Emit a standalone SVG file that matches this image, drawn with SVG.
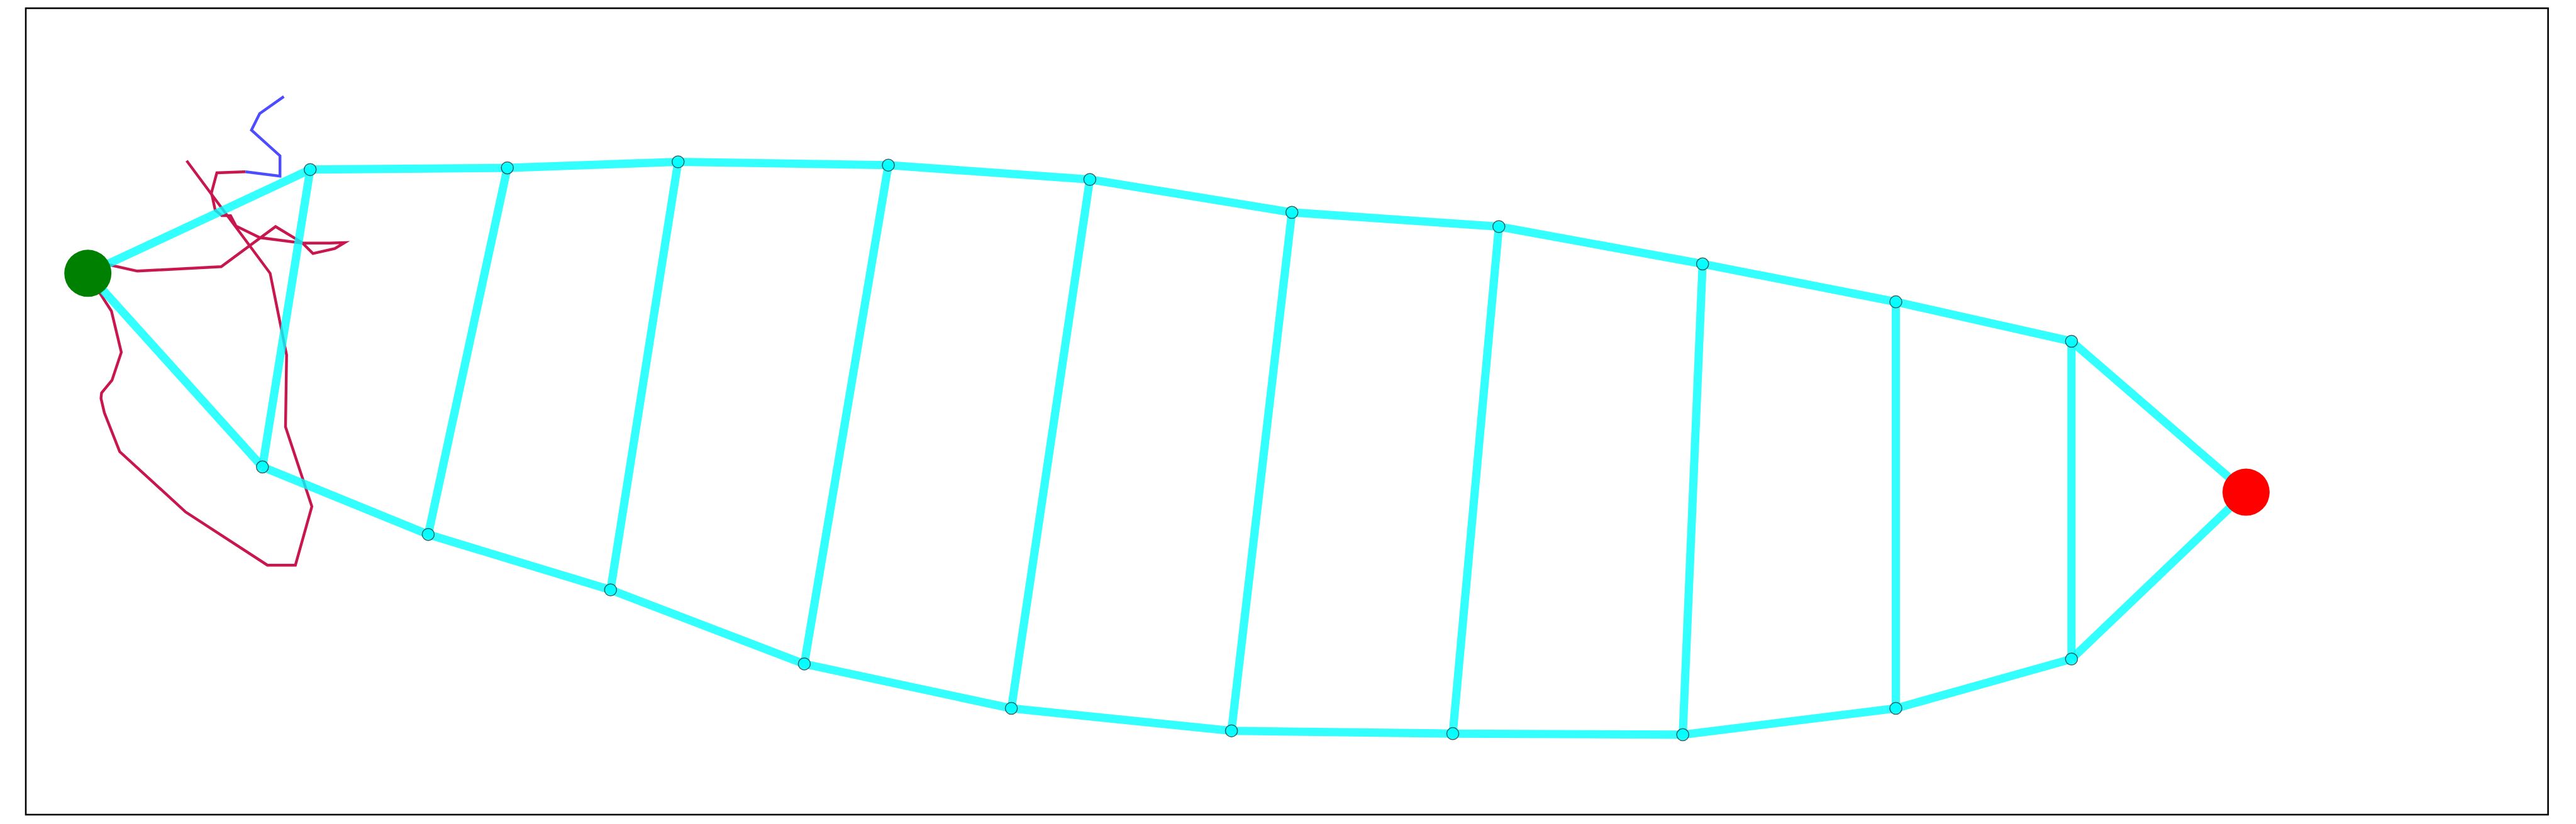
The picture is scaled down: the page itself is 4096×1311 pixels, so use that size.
<svg xmlns="http://www.w3.org/2000/svg" width="4096" height="1311" viewBox="0 0 4096 1311">
<style>
.edge{stroke:#00ffff;stroke-opacity:0.8;stroke-width:13.1;stroke-linecap:butt;fill:none}
.path-red{stroke:#c8174f;stroke-width:4.4;fill:none;stroke-linejoin:miter}
.path-blue{stroke:#4d4dff;stroke-width:4.4;fill:none;stroke-linejoin:miter}
.wp{fill:#00ffff;stroke:#222;stroke-width:1.5;fill-opacity:0.85;stroke-opacity:0.7}
</style>
<rect x="0" y="0" width="4096" height="1311" fill="#ffffff"/>
<rect id="frame" x="41" y="13.1" width="4010.6" height="1283" fill="none" stroke="#000" stroke-width="2.6"/>
<g id="trajectories">
<polyline class="path-red" points="296.8,255.8 429.5,434.8 455.7,564.8 454.0,679.2 495.9,805.8 469.7,899.2 425.2,899.2 295.1,814.5 190.3,718.5 165.9,656.5 160.6,633.8 161.5,625.1 178.1,605.0 192.9,560.5 177.2,495.0 159.8,467.9 139.7,434.8"/>
<polyline class="path-red" points="139.7,430 174.6,421.5 218.3,431.3 351.8,424.3 438.2,360.5 480.2,385.9 497.6,403.3 532.5,395.5 548.2,385.9 523.8,386.7 480.2,386.7 413.0,378.0 375.4,359.7 366.7,343.1 352.7,343.1 342.2,334.4 337.9,314.3 336.1,307.3 344.8,275.0 390.2,273.3"/>
<polyline class="path-blue" points="390.2,273.3 445.2,280.2 445.2,247.9 399.8,206.9 412.9,180.7 451.3,153.6"/>
</g>
<g id="connectors">
<line class="edge" x1="139.7" y1="434.8" x2="493.2" y2="269.8"/>
<line class="edge" x1="139.7" y1="434.8" x2="417.3" y2="742.9"/>
<polyline class="edge" points="493.2,269.8 806.7,267.1 1078.2,257.5 1412.5,262.8 1732.9,285.5 2054.2,337.9 2383.3,360.5 2707.2,419.9 3014.5,480.2 3293.8,543.0"/>
<polyline class="edge" points="417.3,742.9 680.9,850.3 970.8,938.5 1278.9,1056.3 1608.1,1127.0 1958.1,1162.8 2310.0,1167.2 2675.7,1168.9 3014.5,1127.0 3293.8,1048.5"/>
<line class="edge" x1="3293.8" y1="543.0" x2="3571.4" y2="783.1"/>
<line class="edge" x1="3293.8" y1="1048.5" x2="3571.4" y2="783.1"/>
<line class="edge" x1="493.2" y1="269.8" x2="417.3" y2="742.9"/>
<line class="edge" x1="806.7" y1="267.1" x2="680.9" y2="850.3"/>
<line class="edge" x1="1078.2" y1="257.5" x2="970.8" y2="938.5"/>
<line class="edge" x1="1412.5" y1="262.8" x2="1278.9" y2="1056.3"/>
<line class="edge" x1="1732.9" y1="285.5" x2="1608.1" y2="1127.0"/>
<line class="edge" x1="2054.2" y1="337.9" x2="1958.1" y2="1162.8"/>
<line class="edge" x1="2383.3" y1="360.5" x2="2310.0" y2="1167.2"/>
<line class="edge" x1="2707.2" y1="419.9" x2="2675.7" y2="1168.9"/>
<line class="edge" x1="3014.5" y1="480.2" x2="3014.5" y2="1127.0"/>
<line class="edge" x1="3293.8" y1="543.0" x2="3293.8" y2="1048.5"/>
</g>
<g id="T0"><circle class="wp" cx="493.2" cy="269.8" r="9.6"/></g>
<g id="T1"><circle class="wp" cx="806.7" cy="267.1" r="9.6"/></g>
<g id="T2"><circle class="wp" cx="1078.2" cy="257.5" r="9.6"/></g>
<g id="T3"><circle class="wp" cx="1412.5" cy="262.8" r="9.6"/></g>
<g id="T4"><circle class="wp" cx="1732.9" cy="285.5" r="9.6"/></g>
<g id="T5"><circle class="wp" cx="2054.2" cy="337.9" r="9.6"/></g>
<g id="T6"><circle class="wp" cx="2383.3" cy="360.5" r="9.6"/></g>
<g id="T7"><circle class="wp" cx="2707.2" cy="419.9" r="9.6"/></g>
<g id="T8"><circle class="wp" cx="3014.5" cy="480.2" r="9.6"/></g>
<g id="T9"><circle class="wp" cx="3293.8" cy="543.0" r="9.6"/></g>
<g id="B0"><circle class="wp" cx="417.3" cy="742.9" r="9.6"/></g>
<g id="B1"><circle class="wp" cx="680.9" cy="850.3" r="9.6"/></g>
<g id="B2"><circle class="wp" cx="970.8" cy="938.5" r="9.6"/></g>
<g id="B3"><circle class="wp" cx="1278.9" cy="1056.3" r="9.6"/></g>
<g id="B4"><circle class="wp" cx="1608.1" cy="1127.0" r="9.6"/></g>
<g id="B5"><circle class="wp" cx="1958.1" cy="1162.8" r="9.6"/></g>
<g id="B6"><circle class="wp" cx="2310.0" cy="1167.2" r="9.6"/></g>
<g id="B7"><circle class="wp" cx="2675.7" cy="1168.9" r="9.6"/></g>
<g id="B8"><circle class="wp" cx="3014.5" cy="1127.0" r="9.6"/></g>
<g id="B9"><circle class="wp" cx="3293.8" cy="1048.5" r="9.6"/></g>
<g id="start"><circle cx="139.7" cy="434.8" r="37.5" fill="#008000"/></g>
<g id="goal"><circle cx="3571.4" cy="783.1" r="37.5" fill="#ff0000"/></g>
</svg>
